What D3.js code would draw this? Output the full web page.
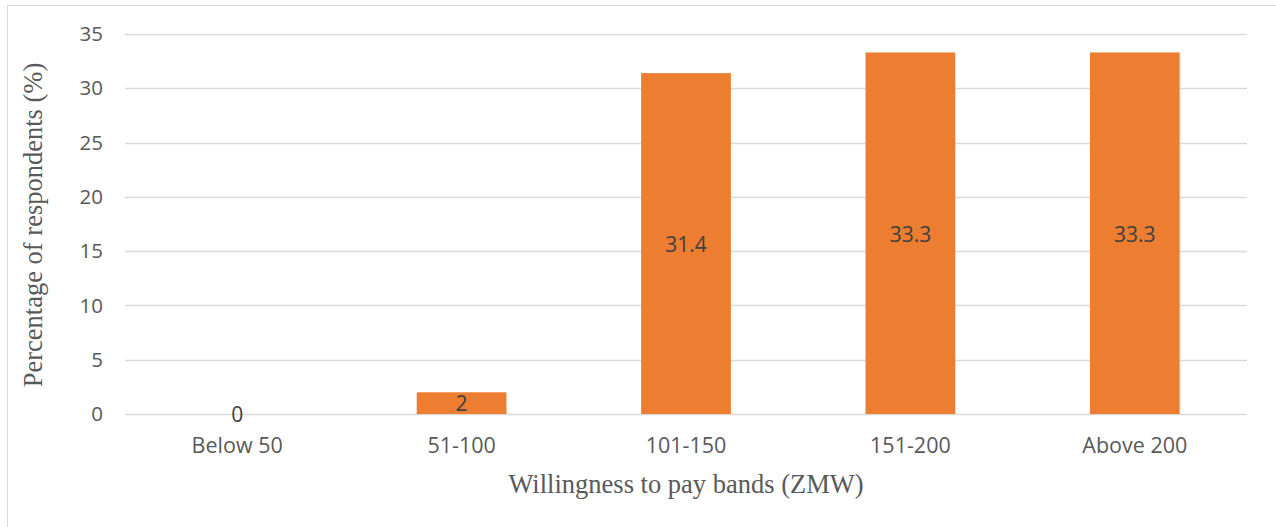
<!DOCTYPE html>
<html>
<head>
<meta charset="utf-8">
<script src="https://cdn.jsdelivr.net/npm/d3@7"></script>
<style>
  html, body { margin: 0; padding: 0; background: #fff; }
  svg { display: block; }
</style>
</head>
<body>
<svg id="chart" width="1276" height="527"></svg>
<script>
// Willingness-to-pay bands and share of respondents (%)
const bands = ["Below 50", "51-100", "101-150", "151-200", "Above 200"];
const percentages = [0, 2, 31.4, 33.3, 33.3];
const yTicks = [0, 5, 10, 15, 20, 25, 30, 35];

const svg = d3.select("#chart");
const W = 1276, H = 527;
const plotLeft = 125, plotRight = 1247, plotTop = 34, plotBottom = 414;
const sansFont = "'Open Sans', sans-serif";
const serifFont = "'Liberation Serif', 'Times New Roman', serif";

// outer chart frame
svg.append("rect")
  .attr("x", 7.5).attr("y", 5.5)
  .attr("width", W).attr("height", H)
  .attr("fill", "none").attr("stroke", "#d9d9d9").attr("stroke-width", 1);

const x = d3.scaleBand().domain(bands).range([plotLeft, plotRight])
  .paddingInner(0.6).paddingOuter(0.3);
const y = d3.scaleLinear().domain([0, 35]).range([plotBottom, plotTop]);

// horizontal gridlines
svg.append("g").selectAll("line").data(yTicks).join("line")
  .attr("x1", plotLeft).attr("x2", plotRight)
  .attr("y1", d => Math.round(y(d)) + 0.5).attr("y2", d => Math.round(y(d)) + 0.5)
  .attr("stroke", "#d9d9d9").attr("stroke-width", 1.3);

// y tick labels
svg.append("g").selectAll("text").data(yTicks).join("text")
  .attr("x", 103).attr("y", d => y(d))
  .attr("dy", "0.35em")
  .attr("text-anchor", "end")
  .attr("font-family", sansFont)
  .attr("font-size", 20.5).attr("fill", "#595959")
  .text(d => d);

// bars
svg.append("g").selectAll("rect").data(bands).join("rect")
  .attr("x", d => x(d))
  .attr("width", x.bandwidth())
  .attr("y", (d, i) => y(percentages[i]))
  .attr("height", (d, i) => y(0) - y(percentages[i]))
  .attr("fill", "#ED7D31");

// value labels centred in bars
svg.append("g").selectAll("text").data(bands).join("text")
  .attr("x", d => x(d) + x.bandwidth() / 2)
  .attr("y", (d, i) => percentages[i] === 0 ? y(0) + 1 : (y(percentages[i]) + y(0)) / 2 + 1)
  .attr("dy", "0.35em")
  .attr("text-anchor", "middle")
  .attr("font-family", sansFont)
  .attr("font-size", 21).attr("fill", "#404040")
  .text((d, i) => percentages[i]);

// x category labels
svg.append("g").selectAll("text").data(bands).join("text")
  .attr("x", d => x(d) + x.bandwidth() / 2)
  .attr("y", 445)
  .attr("dy", "0.35em")
  .attr("text-anchor", "middle")
  .attr("font-family", sansFont)
  .attr("font-size", 21.5).attr("fill", "#595959")
  .text(d => d);

// axis titles
svg.append("text")
  .attr("x", (plotLeft + plotRight) / 2).attr("y", 484)
  .attr("dy", "0.35em")
  .attr("text-anchor", "middle")
  .attr("font-family", serifFont)
  .attr("font-size", 26.5).attr("fill", "#595959")
  .text("Willingness to pay bands (ZMW)");

svg.append("text")
  .attr("transform", `translate(33, 225) rotate(-90)`)
  .attr("dy", "0.35em")
  .attr("text-anchor", "middle")
  .attr("font-family", serifFont)
  .attr("font-size", 26.5).attr("fill", "#595959")
  .text("Percentage of respondents (%)");
</script>
</body>
</html>
